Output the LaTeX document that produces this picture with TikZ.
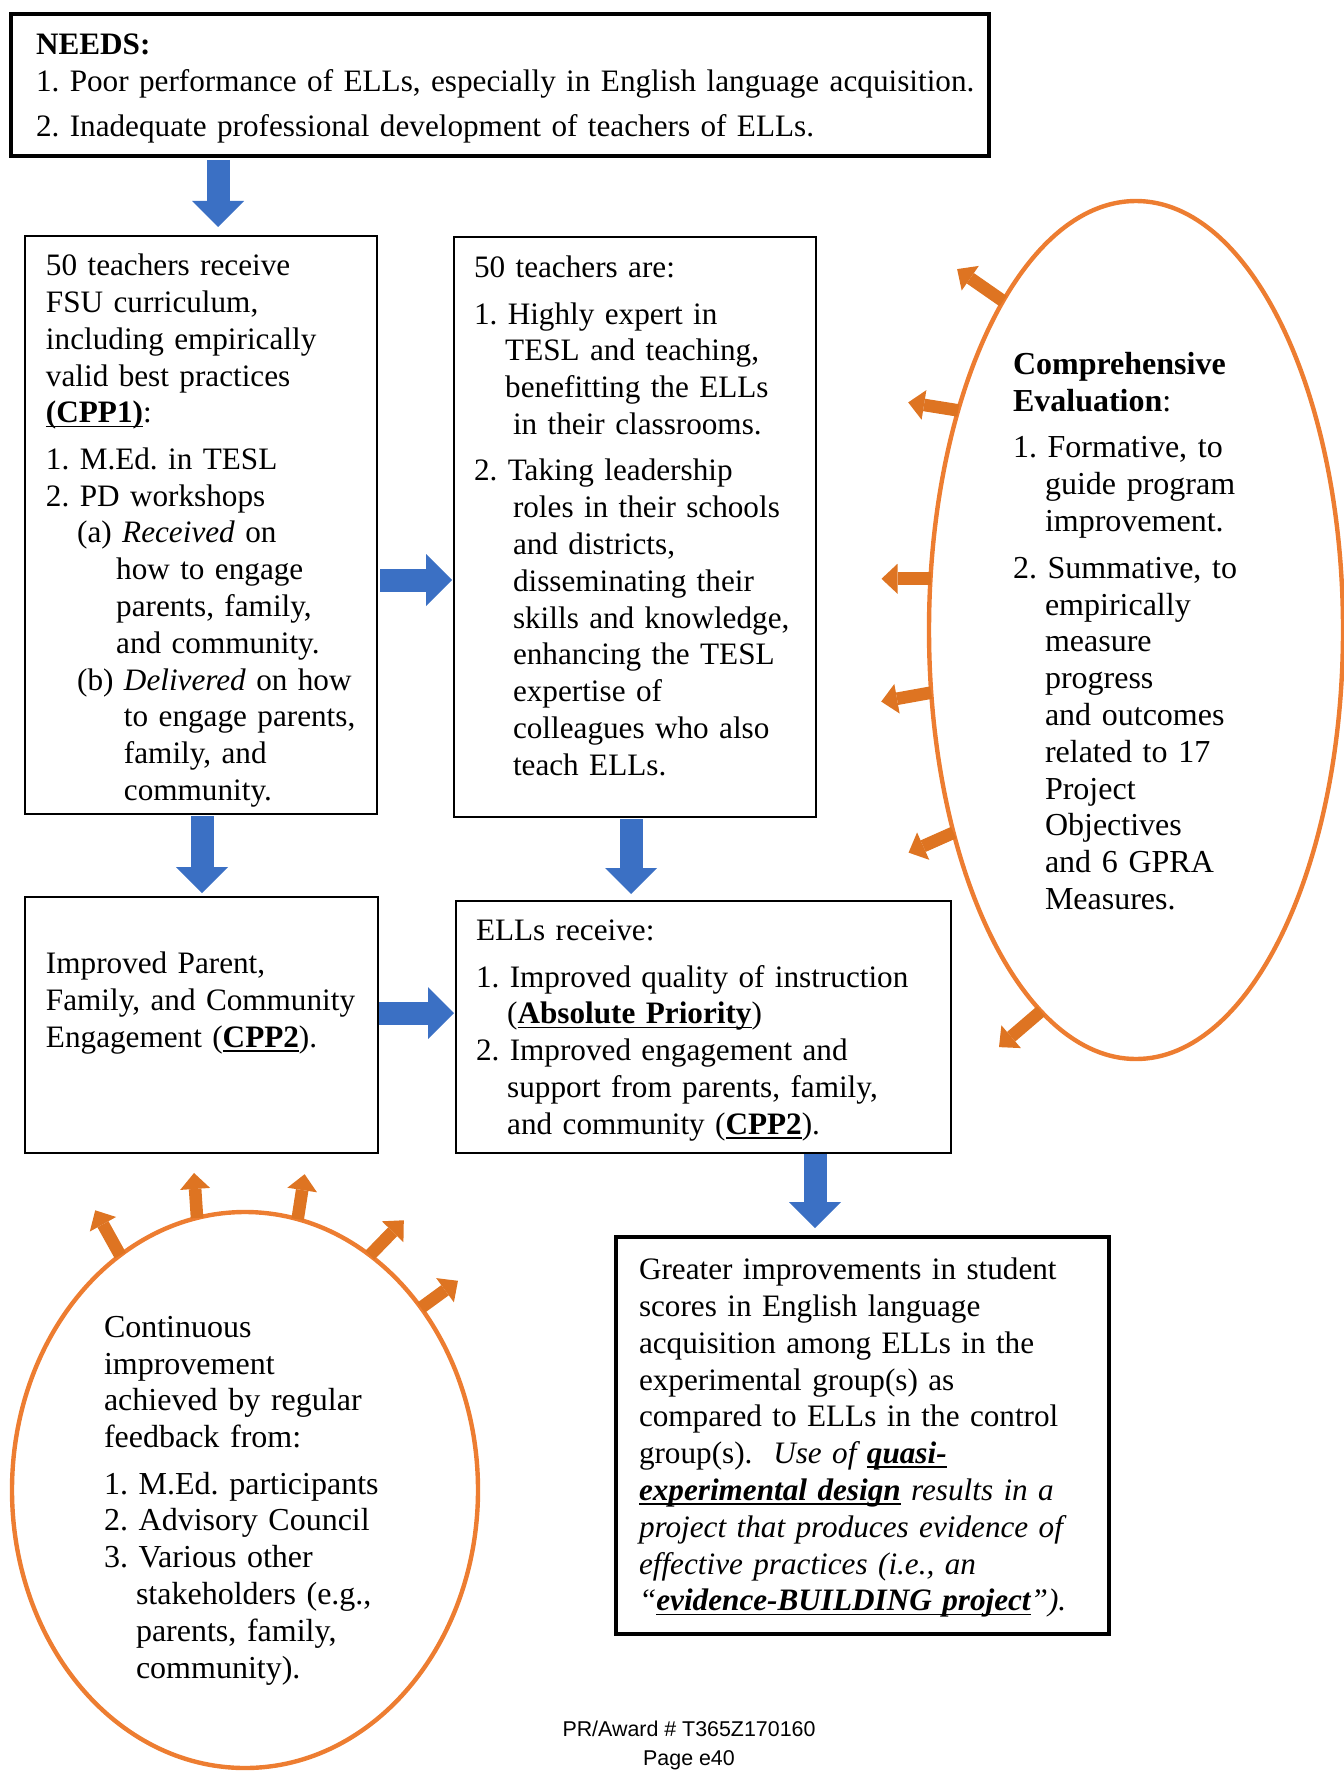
\documentclass[tikz,border=0pt]{standalone}
\usepackage{fontspec}
\setmainfont{Liberation Serif}
\setsansfont{Liberation Sans}
\usetikzlibrary{shapes.geometric,arrows.meta}
\definecolor{bluearr}{RGB}{59,112,196}
\definecolor{orline}{RGB}{237,125,49}
\definecolor{orarr}{RGB}{222,116,34}
\newsavebox{\undlbox}
\newcommand{\undl}[1]{\leavevmode\sbox{\undlbox}{#1}\rlap{\rule[-2.3pt]{\wd\undlbox}{0.9pt}}\usebox{\undlbox}}
\frenchspacing
\begin{document}
\begin{tikzpicture}[x=0.5pt,y=-0.5pt,
  box/.style={draw=black, line width=1pt, inner sep=0pt, outer sep=0pt, anchor=north west, rectangle},
  thickbox/.style={box, line width=2.3pt},
  txt/.style={anchor=north west, inner sep=0pt, outer sep=0pt, align=left, font=\fontsize{15.6}{18.4}\selectfont\frenchspacing},
  otxt/.style={txt, font=\fontsize{16}{18.4}\selectfont\frenchspacing},
  barrow/.style={draw=bluearr, line width=11.5pt, -{Triangle[length=13pt,width=26pt,line width=0pt]}},
  oarrow/.style={draw=orarr, line width=6.3pt, -{Triangle[length=8pt,width=15pt,line width=0pt]}},
  oval/.style={ellipse, draw=orline, line width=2.2pt, inner sep=0pt, outer sep=0pt},
  foot/.style={font=\sffamily\fontsize{10.7}{12}\selectfont, inner sep=0pt}
]
\useasboundingbox (0,0) rectangle (1343,1771);

% boxes
\node[thickbox, minimum width=489pt, minimum height=71pt] (needs) at (11,14) {};
\node[box, minimum width=176pt, minimum height=289pt] (boxA) at (25,236) {};
\node[box, minimum width=181pt, minimum height=290pt] (boxB) at (454,237) {};
\node[box, minimum width=176.5pt, minimum height=128pt] (boxC) at (25,897) {};
\node[box, minimum width=247.5pt, minimum height=126pt] (boxD) at (456,901) {};
\node[thickbox, minimum width=246.5pt, minimum height=198.5pt] (boxE) at (616,1237) {};

% ellipses
\node[oval, minimum width=207pt, minimum height=429pt] (eR) at (1136,630) {};
\node[oval, minimum width=233pt, minimum height=278pt] (eL) at (245,1490) {};

% texts
\node[txt, text width=485pt] (tneeds) at ([shift={(25,20)}]needs.north west) {%
\textbf{NEEDS:}\\
1. Poor performance of ELLs, especially in English language acquisition.\\[4.3pt]
2. Inadequate professional development of teachers of ELLs.};

\node[txt, text width=175pt] (tA) at ([shift={(21,18)}]boxA.north west) {%
50 teachers receive\\
FSU curriculum,\\
including empirically\\
valid best practices\\
\undl{\textbf{(CPP1)}}:\\[4.8pt]
1. M.Ed. in TESL\\
2. PD workshops\\
\hspace*{1em}(a) \textit{Received} on\\
\hspace*{2.25em}how to engage\\
\hspace*{2.25em}parents, family,\\
\hspace*{2.25em}and community.\\
\hspace*{1em}(b) \textit{Delivered} on how\\
\hspace*{2.5em}to engage parents,\\
\hspace*{2.5em}family, and\\
\hspace*{2.5em}community.};

\node[txt, text width=175pt] (tB) at ([shift={(20,19)}]boxB.north west) {%
50 teachers are:\\[4.8pt]
1. Highly expert in\\
\hspace*{1em}TESL and teaching,\\
\hspace*{1em}benefitting the ELLs\\
\hspace*{1.25em}in their classrooms.\\[4.8pt]
2. Taking leadership\\
\hspace*{1.25em}roles in their schools\\
\hspace*{1.25em}and districts,\\
\hspace*{1.25em}disseminating their\\
\hspace*{1.25em}skills and knowledge,\\
\hspace*{1.25em}enhancing the TESL\\
\hspace*{1.25em}expertise of\\
\hspace*{1.25em}colleagues who also\\
\hspace*{1.25em}teach ELLs.};

\node[txt, text width=170pt] (tC) at ([shift={(21,55)}]boxC.north west) {%
Improved Parent,\\
Family, and Community\\
Engagement (\undl{\textbf{CPP2}}).};

\node[txt, text width=235pt] (tD) at ([shift={(20,19)}]boxD.north west) {%
ELLs receive:\\[4.8pt]
1. Improved quality of instruction\\
\hspace*{1em}(\undl{\textbf{Absolute Priority}})\\
2. Improved engagement and\\
\hspace*{1em}support from parents, family,\\
\hspace*{1em}and community (\undl{\textbf{CPP2}}).};

\node[txt, text width=235pt] (tE) at ([shift={(23,21)}]boxE.north west) {%
Greater improvements in student\\
scores in English language\\
acquisition among ELLs in the\\
experimental group(s) as\\
compared to ELLs in the control\\
group(s).\ \ \textit{Use of \undl{\textbf{quasi-}}}\\
\textit{\undl{\textbf{experimental design}} results in a}\\
\textit{project that produces evidence of}\\
\textit{effective practices (i.e., an}\\
\textit{“\undl{\textbf{evidence-BUILDING project}}”).}};

\node[otxt, text width=140pt] (tR) at ([shift={(-123,-278)}]eR.center) {%
\textbf{Comprehensive}\\
\textbf{Evaluation}:\\[5pt]
1. Formative, to\\
\hspace*{1em}guide program\\
\hspace*{1em}improvement.\\[5pt]
2. Summative, to\\
\hspace*{1em}empirically\\
\hspace*{1em}measure\\
\hspace*{1em}progress\\
\hspace*{1em}and outcomes\\
\hspace*{1em}related to 17\\
\hspace*{1em}Project\\
\hspace*{1em}Objectives\\
\hspace*{1em}and 6 GPRA\\
\hspace*{1em}Measures.};

\node[otxt, text width=150pt] (tL) at ([shift={(-141,-174)}]eL.center) {%
Continuous\\
improvement\\
achieved by regular\\
feedback from:\\[4.8pt]
1. M.Ed. participants\\
2. Advisory Council\\
3. Various other\\
\hspace*{1em}stakeholders (e.g.,\\
\hspace*{1em}parents, family,\\
\hspace*{1em}community).};

% blue connectors
\draw[barrow] ([shift={(207,4)}]needs.south west) -- ([shift={(193,-9)}]boxA.north west);
\draw[barrow] ([shift={(3,344)}]boxA.north east) -- ([shift={(-2,343)}]boxB.north west);
\draw[barrow] ([shift={(177,2)}]boxA.south west) -- ([shift={(177,-4)}]boxC.north west);
\draw[barrow] ([shift={(177,2)}]boxB.south west) -- ([shift={(175,-7)}]boxD.north west);
\draw[barrow] ([shift={(1,116)}]boxC.north east) -- ([shift={(-2,112)}]boxD.north west);
\draw[barrow] ([shift={(359,1)}]boxD.south west) -- ([shift={(199,-9)}]boxE.north west);

% orange arrows from evaluation ellipse
\draw[oarrow] (eR.112) -- ++(-46,-32);
\draw[oarrow] (eR.129.5) -- ++(-50,-8);
\draw[oarrow] (eR.166) -- ++(-49,0);
\draw[oarrow] (eR.197.7) -- ++(-50,9);
\draw[oarrow] (eR.228.5) -- ++(-45,20);
\draw[oarrow] (eR.256.7) -- ++(-42,36);

% orange arrows from feedback ellipse
\draw[oarrow] (eL.118.9) -- ++(-25,-45);
\draw[oarrow] (eL.100.4) -- ++(-3,-45);
\draw[oarrow] (eL.79.4) -- ++(7,-45);
\draw[oarrow] (eL.62.8) -- ++(34,-35);
\draw[oarrow] (eL.46.4) -- ++(37,-27);

% footer
\node[foot] (foot1) at (689,1729) {PR/Award \# T365Z170160};
\node[foot] (foot2) at (689,1760) {Page e40};
\end{tikzpicture}
\end{document}
